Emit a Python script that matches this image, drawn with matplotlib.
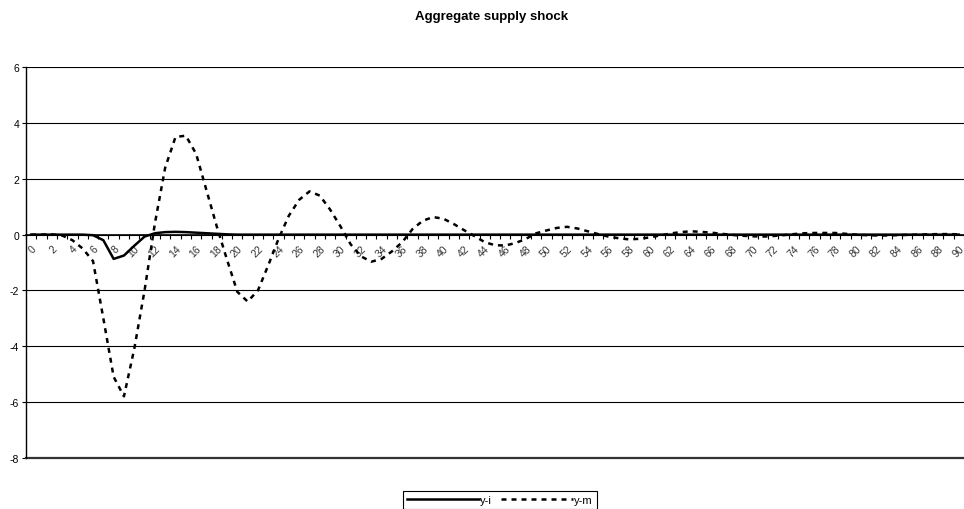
import numpy as np
from matplotlib import pyplot as plt

plt.rcParams['font.family'] = ['Liberation Sans', 'DejaVu Sans']

# periods 0..90
periods = list(range(91))

# output gap responses
y_i = [0.0, 0.0, 0.0, 0.0, 0.0, 0.0, -0.02, -0.2, -0.87, -0.75,
       -0.4, -0.07, 0.05, 0.09, 0.1, 0.09, 0.07, 0.05, 0.03, 0.01,
       0.0, 0.0, 0.0, 0.0, 0.0, 0.0, 0.0, 0.0, 0.0, 0.0,
       0.0, 0.0, 0.0, 0.0, 0.0, 0.0, 0.0, 0.0, 0.0, 0.0,
       0.0, 0.0, 0.0, 0.0, 0.0, 0.0, 0.0, 0.0, 0.0, 0.0,
       0.0, 0.0, 0.0, 0.0, 0.0, 0.0, 0.0, 0.0, 0.0, 0.0,
       0.0, 0.0, 0.0, 0.0, 0.0, 0.0, 0.0, 0.0, 0.0, 0.0,
       0.0, 0.0, 0.0, 0.0, 0.0, 0.0, 0.0, 0.0, 0.0, 0.0,
       0.0, 0.0, 0.0, 0.0, 0.0, 0.0, 0.0, 0.0, 0.0, 0.0,
       0.0]

y_m = [0.0, 0.0, 0.01, -0.03, -0.2, -0.5, -0.95, -3.0, -5.1, -5.8,
       -4.1, -2.0, 0.4, 2.4, 3.5, 3.55, 2.9, 1.6, 0.3, -0.9,
       -2.05, -2.4, -2.0, -1.1, -0.15, 0.68, 1.25, 1.55, 1.4, 0.9,
       0.3, -0.35, -0.78, -0.97, -0.87, -0.6, -0.27, 0.2, 0.5, 0.63,
       0.57, 0.38, 0.16, -0.05, -0.27, -0.38, -0.39, -0.3, -0.15, 0.05,
       0.15, 0.24, 0.28, 0.22, 0.12, 0.02, -0.07, -0.13, -0.17, -0.15,
       -0.1, -0.03, 0.04, 0.09, 0.12, 0.1, 0.07, 0.03, -0.01, -0.04,
       -0.06, -0.07, -0.05, -0.02, 0.02, 0.05, 0.06, 0.06, 0.06, 0.03,
       0.0, -0.02, -0.03, -0.03, -0.02, -0.01, 0.0, 0.01, 0.02, 0.02,
       0.01]

yticks = [-8, -6, -4, -2, 0, 2, 4, 6]

fig = plt.figure(figsize=(9.64, 5.10), dpi=100)
ax = fig.add_axes([0.027, 0.1006, 0.973, 0.7654])

ax.plot(periods, y_i, color='black', lw=1.8, label='y-i', zorder=4)
ax.plot(periods, y_m, color='black', lw=1.8, dashes=(2, 2), label='y-m', zorder=3)

ax.set_xlim(-0.5, len(periods) - 0.5)
ax.set_ylim(-8, 6)
ax.set_yticks(yticks)
ax.set_yticklabels([str(v) for v in yticks], fontsize=7.5)
ax.tick_params(axis='y', length=3, width=0.8, pad=2)
ax.yaxis.grid(True, color='black', lw=0.8)
ax.axhline(-8, color='#333333', lw=1.6, clip_on=False)
ax.set_axisbelow(True)

for s in ['top', 'right']:
    ax.spines[s].set_visible(False)
ax.spines['left'].set_linewidth(1.0)
ax.spines['bottom'].set_position(('data', 0))
ax.spines['bottom'].set_linewidth(1.2)
ax.spines['bottom'].set_zorder(2)

# category boundaries as minor ticks, labels every 2nd period
ax.set_xticks(periods[::2])
ax.set_xticklabels([str(p) for p in periods[::2]], fontsize=7.5, rotation=45,
                   ha='right', rotation_mode='anchor', color='#333333')
ax.set_xticks(np.arange(-0.5, len(periods), 1), minor=True)
ax.tick_params(axis='x', which='major', length=0, pad=6)
ax.tick_params(axis='x', which='minor', length=3, width=0.8, direction='out')

fig.text(0.51, 1 - 17 / 510, 'Aggregate supply shock', ha='center', va='center',
         fontsize=9.5, fontweight='bold')

leg = fig.legend(loc='upper center', bbox_to_anchor=(0.5187, 1 - 486 / 510), ncol=2,
                 fontsize=8, handlelength=6.5, frameon=True, fancybox=False,
                 edgecolor='black', framealpha=1, columnspacing=0.8,
                 handletextpad=0.1, borderpad=0.4)
leg.get_frame().set_linewidth(0.8)

fig.savefig('out.png', dpi=100)
